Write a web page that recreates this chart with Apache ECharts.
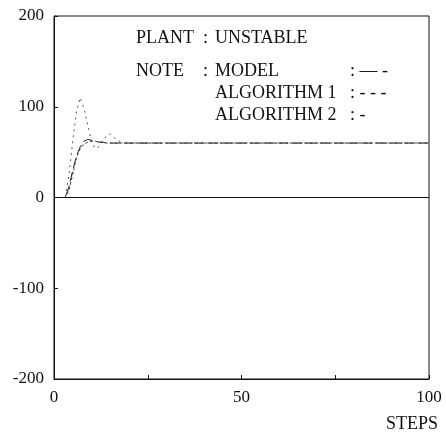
<!DOCTYPE html>
<html>
<head>
<meta charset="utf-8">
<script src="https://cdn.jsdelivr.net/npm/echarts@6/dist/echarts.min.js"></script>
<style>
  html, body { margin: 0; padding: 0; background: #fff; }
  #chart { width: 446px; height: 433px; }
</style>
</head>
<body>
<div id="chart"></div>
<script>
// steps 0..100
const steps = Array.from({ length: 101 }, (_, i) => i)

// first 20 steps; later steps settle
const modelHead = [0, 0, 0, 0, 12, 30, 46, 56, 62, 64, 63, 62, 61, 61, 60, 60, 60, 60, 60, 60]
const algo1Head = [0, 0, 0, 0, 25, 62, 95, 110, 98, 80, 62, 54, 56, 62, 68, 70, 66, 63, 61, 60]
const algo2Head = [0, 0, 0, 0, 8, 26, 44, 54, 59, 61, 62, 62, 61, 61, 60, 60, 60, 60, 60, 60]
const settled = 60

const yTicks = [200, 100, 0, -100, -200]
const xTicks = [0, 50, 100]

function fill(head) {
  return steps.map(s => [s, s < head.length ? head[s] : settled])
}

const serif = '"Liberation Serif", "DejaVu Serif", serif'
const font = '18px ' + serif
const chart = echarts.init(document.getElementById('chart'))

function txt(x, y, text) {
  return { type: 'text', x: x, y: y, silent: true, style: { text: text, font: font, fill: '#111', verticalAlign: 'middle' } }
}

const options = {
  animation: false,
  grid: { left: 54, right: 17, top: 16, bottom: 54, show: true, borderColor: '#111', borderWidth: 1 },
  xAxis: {
    type: 'value',
    min: 0,
    max: 100,
    interval: 25,
    axisLine: { show: true, onZero: false, lineStyle: { color: '#111', width: 1 } },
    axisTick: { show: true, inside: true, length: 4, lineStyle: { color: '#111' } },
    axisLabel: {
      color: '#111',
      fontFamily: serif,
      fontSize: 17,
      margin: 10,
      formatter: v => (xTicks.includes(v) ? String(v) : '')
    },
    splitLine: { show: false }
  },
  yAxis: {
    type: 'value',
    min: -200,
    max: 200,
    interval: 100,
    axisLine: { show: true, onZero: false, lineStyle: { color: '#111', width: 1 } },
    axisTick: { show: true, inside: true, length: 4, lineStyle: { color: '#111' } },
    axisLabel: {
      color: '#111',
      fontFamily: serif,
      fontSize: 17,
      margin: 10,
      formatter: v => (yTicks.includes(v) ? String(v) : '')
    },
    splitLine: { show: false }
  },
  graphic: [
    txt(136, 38, 'PLANT'),
    txt(203, 38, ':'),
    txt(215, 38, 'UNSTABLE'),
    txt(136, 71, 'NOTE'),
    txt(203, 71, ':'),
    txt(215, 71, 'MODEL'),
    txt(215, 93, 'ALGORITHM 1'),
    txt(215, 115, 'ALGORITHM 2'),
    txt(350, 71, ': — -'),
    txt(350, 93, ': - - -'),
    txt(350, 115, ': -'),
    txt(386, 424, 'STEPS')
  ],
  series: [
    {
      name: 'MODEL',
      type: 'line',
      data: fill(modelHead),
      showSymbol: false,
      lineStyle: { color: '#222', width: 1, type: [10, 4] },
      markLine: {
        silent: true,
        symbol: 'none',
        label: { show: false },
        lineStyle: { color: '#111', width: 1, type: 'solid' },
        data: [{ yAxis: 0 }]
      }
    },
    {
      name: 'ALGORITHM 1',
      type: 'line',
      data: fill(algo1Head),
      showSymbol: false,
      lineStyle: { color: '#555', width: 1, type: [2, 4] }
    },
    {
      name: 'ALGORITHM 2',
      type: 'line',
      data: fill(algo2Head),
      showSymbol: false,
      lineStyle: { color: '#444', width: 1, type: [3, 2] }
    }
  ]
}

chart.setOption(options)
</script>
</body>
</html>
